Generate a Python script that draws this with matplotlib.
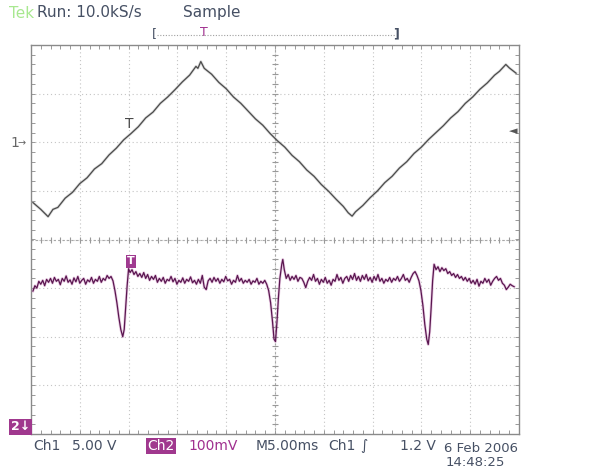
import numpy as np
import matplotlib
matplotlib.use("Agg")
from matplotlib import pyplot as plt

# screen is 10 x 8 divisions, 5 ms/div, Ch1 5 V/div, Ch2 100 mV/div
ch1_t = [0.04, 0.20, 0.35, 0.45, 0.55, 0.70, 0.85, 1.00, 1.15, 1.30, 1.45, 1.60,
         1.75, 1.90, 2.05, 2.20, 2.35, 2.50, 2.65, 2.80, 2.95, 3.10, 3.25, 3.38,
         3.42, 3.48, 3.55, 3.70, 3.85, 4.00, 4.15, 4.30, 4.45, 4.60, 4.75, 4.90,
         5.05, 5.20, 5.35, 5.50, 5.65, 5.80, 5.95, 6.10, 6.25, 6.40, 6.50, 6.58,
         6.65, 6.80, 6.95, 7.10, 7.25, 7.40, 7.55, 7.70, 7.85, 8.00, 8.15, 8.30,
         8.45, 8.60, 8.75, 8.90, 9.05, 9.20, 9.35, 9.50, 9.60, 9.73, 9.80, 9.94]
ch1_y = [0.76, 0.62, 0.47, 0.62, 0.66, 0.85, 0.97, 1.15, 1.27, 1.45, 1.56, 1.74,
         1.88, 2.05, 2.18, 2.32, 2.50, 2.62, 2.80, 2.93, 3.08, 3.24, 3.38, 3.56,
         3.52, 3.66, 3.52, 3.40, 3.23, 3.10, 2.93, 2.80, 2.64, 2.48, 2.35, 2.18,
         2.03, 1.90, 1.73, 1.60, 1.43, 1.30, 1.13, 0.99, 0.83, 0.68, 0.55, 0.48,
         0.57, 0.70, 0.86, 1.00, 1.17, 1.30, 1.47, 1.60, 1.77, 1.90, 2.06, 2.20,
         2.34, 2.50, 2.63, 2.80, 2.93, 3.09, 3.22, 3.38, 3.46, 3.60, 3.53, 3.42]

ch2_t = [0.04, 0.08, 0.12, 0.16, 0.20, 0.24, 0.28, 0.32, 0.36, 0.40, 0.44, 0.48,
         0.52, 0.56, 0.60, 0.64, 0.68, 0.72, 0.76, 0.80, 0.84, 0.88, 0.92, 0.96,
         1.00, 1.04, 1.08, 1.12, 1.16, 1.20, 1.24, 1.28, 1.32, 1.36, 1.40, 1.44,
         1.48, 1.52, 1.56, 1.60, 1.64, 1.68, 1.72, 1.76, 1.80, 1.84, 1.88, 1.91,
         1.94, 1.97, 2.00, 2.03, 2.07, 2.11, 2.15, 2.19, 2.23, 2.27, 2.31, 2.35,
         2.39, 2.43, 2.47, 2.51, 2.55, 2.59, 2.63, 2.67, 2.71, 2.75, 2.79, 2.83,
         2.87, 2.91, 2.95, 2.99, 3.03, 3.07, 3.11, 3.15, 3.19, 3.23, 3.27, 3.31,
         3.35, 3.39, 3.43, 3.47, 3.51, 3.55, 3.59, 3.63, 3.67, 3.71, 3.75, 3.79,
         3.83, 3.87, 3.91, 3.95, 3.99, 4.03, 4.07, 4.11, 4.15, 4.19, 4.23, 4.27,
         4.31, 4.35, 4.39, 4.43, 4.47, 4.51, 4.55, 4.59, 4.63, 4.67, 4.71, 4.75,
         4.79, 4.83, 4.87, 4.91, 4.95, 4.98, 5.01, 5.04, 5.07, 5.10, 5.14, 5.16,
         5.19, 5.23, 5.27, 5.31, 5.35, 5.39, 5.43, 5.47, 5.51, 5.55, 5.59, 5.63,
         5.67, 5.71, 5.75, 5.79, 5.83, 5.87, 5.91, 5.95, 5.99, 6.03, 6.07, 6.11,
         6.15, 6.19, 6.23, 6.27, 6.31, 6.35, 6.39, 6.43, 6.47, 6.51, 6.55, 6.59,
         6.63, 6.67, 6.71, 6.75, 6.79, 6.83, 6.87, 6.91, 6.95, 6.99, 7.03, 7.07,
         7.11, 7.15, 7.19, 7.23, 7.27, 7.31, 7.35, 7.39, 7.43, 7.47, 7.51, 7.55,
         7.59, 7.63, 7.67, 7.71, 7.75, 7.79, 7.83, 7.87, 7.91, 7.95, 7.99, 8.03,
         8.07, 8.11, 8.14, 8.17, 8.20, 8.23, 8.26, 8.30, 8.34, 8.38, 8.42, 8.46,
         8.50, 8.54, 8.58, 8.62, 8.66, 8.70, 8.74, 8.78, 8.82, 8.86, 8.90, 8.94,
         8.98, 9.02, 9.06, 9.10, 9.14, 9.18, 9.22, 9.26, 9.30, 9.34, 9.38, 9.42,
         9.46, 9.50, 9.54, 9.58, 9.62, 9.66, 9.70, 9.74, 9.78, 9.82, 9.86, 9.90]
ch2_y = [-1.06, -0.95, -1.00, -0.86, -0.92, -0.84, -0.95, -0.82, -0.88, -0.80, -0.90, -0.78,
         -0.86, -0.82, -0.93, -0.80, -0.86, -0.75, -0.88, -0.83, -0.92, -0.79, -0.87, -0.76,
         -0.90, -0.84, -0.80, -0.92, -0.83, -0.87, -0.78, -0.90, -0.82, -0.86, -0.76, -0.88,
         -0.80, -0.84, -0.74, -0.80, -0.76, -0.85, -1.05, -1.30, -1.60, -1.85, -2.00, -1.85,
         -1.40, -0.95, -0.60, -0.68, -0.62, -0.72, -0.66, -0.76, -0.70, -0.78, -0.68, -0.80,
         -0.72, -0.84, -0.76, -0.82, -0.74, -0.88, -0.80, -0.86, -0.78, -0.90, -0.82, -0.85,
         -0.76, -0.87, -0.80, -0.92, -0.84, -0.88, -0.79, -0.90, -0.82, -0.86, -0.77, -0.89,
         -0.84, -0.92, -0.82, -0.90, -0.74, -0.98, -1.03, -0.85, -0.80, -0.88, -0.78, -0.86,
         -0.80, -0.90, -0.82, -0.87, -0.76, -0.85, -0.82, -0.92, -0.84, -0.88, -0.74, -0.86,
         -0.80, -0.90, -0.84, -0.88, -0.82, -0.92, -0.85, -0.88, -0.80, -0.92, -0.86, -0.90,
         -0.84, -0.92, -1.05, -1.30, -1.70, -2.05, -2.10, -1.70, -1.20, -0.80, -0.50, -0.41,
         -0.62, -0.80, -0.72, -0.84, -0.76, -0.82, -0.74, -0.86, -0.78, -0.80, -0.88, -0.99,
         -0.86, -0.78, -0.84, -0.72, -0.86, -0.80, -0.92, -0.82, -0.88, -0.78, -0.90, -0.84,
         -0.94, -0.82, -0.86, -0.72, -0.84, -0.78, -0.90, -0.80, -0.76, -0.86, -0.74, -0.82,
         -0.70, -0.84, -0.76, -0.86, -0.74, -0.82, -0.72, -0.85, -0.78, -0.88, -0.76, -0.84,
         -0.72, -0.86, -0.80, -0.90, -0.82, -0.86, -0.78, -0.88, -0.80, -0.84, -0.76, -0.86,
         -0.80, -0.72, -0.84, -0.80, -0.88, -0.78, -0.70, -0.66, -0.74, -0.85, -1.05, -1.35,
         -1.75, -2.05, -2.16, -1.90, -1.40, -0.85, -0.51, -0.62, -0.56, -0.66, -0.58, -0.64,
         -0.60, -0.70, -0.66, -0.74, -0.70, -0.78, -0.72, -0.80, -0.76, -0.84, -0.78, -0.86,
         -0.80, -0.90, -0.84, -0.92, -0.82, -0.96, -0.86, -0.90, -0.80, -0.88, -0.82, -0.94,
         -0.86, -0.80, -0.76, -0.84, -0.80, -0.90, -0.94, -1.03, -0.98, -0.92, -0.95, -0.97]

W, H = 613, 470
fig = plt.figure(figsize=(W / 100, H / 100), dpi=100)
fig.patch.set_facecolor("white")
ax = fig.add_axes([31 / W, 1 - 434 / H, 488 / W, 389 / H])
ax.set_xlim(0, 10)
ax.set_ylim(-4, 4)
ax.set_xticks([])
ax.set_yticks([])
for s in ax.spines.values():
    s.set_color("#8a8a8a")
    s.set_linewidth(1.0)

gridc = "#c4c4c4"
for i in range(1, 10):
    ax.axvline(i, color=gridc, lw=0.8, ls=(0, (1, 2.5)), zorder=1)
for j in range(-3, 4):
    ax.axhline(j, color=gridc, lw=0.8, ls=(0, (1, 2.5)), zorder=1)

# minor ticks on centre lines and the frame
mt = np.arange(0, 10.01, 0.2)
mv = np.arange(-4, 4.01, 0.2)
tk = "#999999"
ax.plot(mt, np.zeros_like(mt), ls="none", marker="|", ms=4, mew=0.8, color=tk, zorder=2)
ax.plot(np.full_like(mv, 5), mv, ls="none", marker="_", ms=4, mew=0.8, color=tk, zorder=2)
ax.plot(mt, np.full_like(mt, 3.96), ls="none", marker="|", ms=3, mew=0.7, color=tk, zorder=2)
ax.plot(mt, np.full_like(mt, -3.96), ls="none", marker="|", ms=3, mew=0.7, color=tk, zorder=2)
ax.plot(np.full_like(mv, 0.04), mv, ls="none", marker="_", ms=3, mew=0.7, color=tk, zorder=2)
ax.plot(np.full_like(mv, 9.96), mv, ls="none", marker="_", ms=3, mew=0.7, color=tk, zorder=2)
ax.axhline(0, color="#a8a8a8", lw=0.8, ls=(0, (2, 2)), zorder=1)
ax.axvline(5, color="#a8a8a8", lw=0.8, ls=(0, (2, 2)), zorder=1)

# traces
ax.plot(ch1_t, ch1_y, color="#b0b0b0", lw=2.0, alpha=0.45, zorder=3)
ax.plot(ch1_t, ch1_y, color="#4a4a4a", lw=0.9, zorder=4)
ax.plot(ch2_t, ch2_y, color="#c070b0", lw=2.0, alpha=0.35, zorder=3)
ax.plot(ch2_t, ch2_y, color="#5a1650", lw=0.9, zorder=4)

# trigger markers on traces
ax.text(2.02, 2.37, "T", color="#4a4a4a", fontsize=10, ha="center", va="center", zorder=5)
ax.text(2.05, -0.45, "T", color="white", fontsize=8, fontweight="bold", ha="center", va="center",
        zorder=6, bbox=dict(boxstyle="square,pad=0.12", fc="#a03a90", ec="none"))

def px(x, y):
    return x / W, 1 - y / H

slate = "#465064"
mag = "#a0308f"
fs = 10
hs = 11
fig.text(*px(9, 13), "Tek", color="#a8e890", fontsize=hs, va="center")
fig.text(*px(37, 13), "Run: 10.0kS/s", color=slate, fontsize=hs, va="center")
fig.text(*px(183, 13), "Sample", color=slate, fontsize=hs, va="center")

# record bracket
fig.text(*px(152, 34), "[", color=slate, fontsize=9, va="center")
fig.text(*px(393, 34), "]", color=slate, fontsize=9, va="center", fontweight="bold")
fig.add_artist(plt.Line2D([157 / W, 395 / W], [1 - 35 / H] * 2, color="#a0a0a0", lw=0.8,
                          ls=(0, (1, 1.5))))
fig.text(*px(204, 33), "T", color=mag, fontsize=9, ha="center", va="center")

# channel markers
fig.text(*px(10, 143), "1", color="#666666", fontsize=fs, va="center")
fig.text(*px(18, 143), "\u2192", color="#666666", fontsize=7, va="center")
fig.text(*px(509, 131), "\u25c4", color="#555555", fontsize=8, va="center")
fig.text(*px(11, 427), "2\u2193", color="white", fontsize=9, fontweight="bold", va="center",
         bbox=dict(boxstyle="square,pad=0.12", fc="#a0388e", ec="none"))

# bottom readout
fig.text(*px(33, 446), "Ch1", color=slate, fontsize=fs, va="center")
fig.text(*px(72, 446), "5.00 V", color=slate, fontsize=fs, va="center")
fig.text(*px(147, 446), "Ch2", color="white", fontsize=fs, va="center",
         bbox=dict(boxstyle="square,pad=0.1", fc="#a0388e", ec="none"))
fig.text(*px(188, 446), "100mV", color=mag, fontsize=fs, va="center")
fig.text(*px(256, 446), "M5.00ms", color=slate, fontsize=fs, va="center")
fig.text(*px(328, 446), "Ch1", color=slate, fontsize=fs, va="center")
fig.text(*px(360, 446), "\u222b", color=slate, fontsize=fs, va="center", style="italic")
fig.text(*px(400, 446), "1.2 V", color=slate, fontsize=fs, va="center")
fig.text(*px(444, 448), "6 Feb 2006", color=slate, fontsize=9.5, va="center")
fig.text(*px(446, 462), "14:48:25", color=slate, fontsize=9.5, va="center")

fig.savefig("out.png", dpi=100)
